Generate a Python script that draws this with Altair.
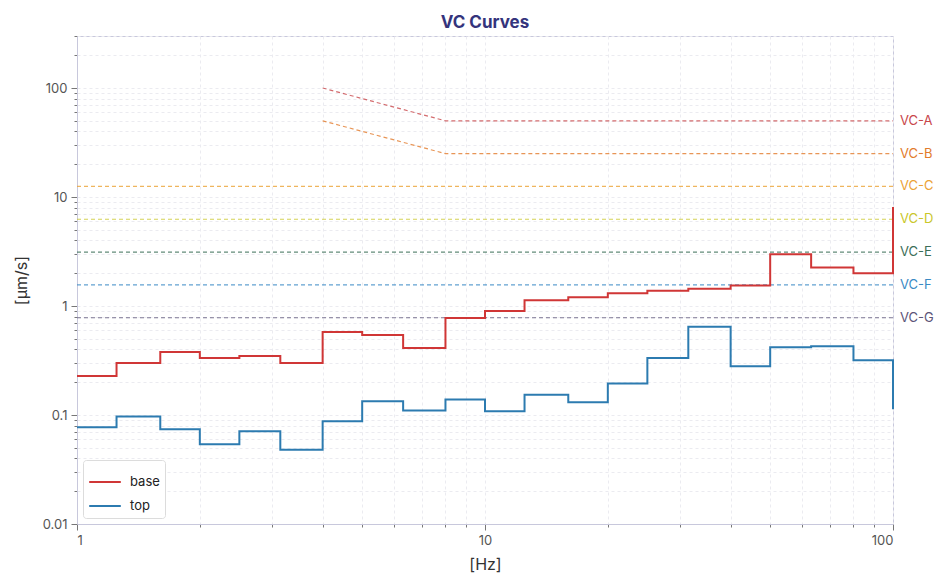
"""
VC Curves: base and top velocity spectra (1/3 octave) against the VC criteria
"""
import pandas as pd
import altair as alt

# 1/3 octave band centre frequencies [Hz]
freqs = [1, 1.25, 1.6, 2, 2.5, 3.15, 4, 5, 6.3, 8, 10, 12.5, 16, 20, 25,
         31.5, 40, 50, 63, 80, 100]
base_vals = [0.228, 0.30, 0.378, 0.333, 0.348, 0.30, 0.577, 0.542, 0.412, 0.776,
             0.90, 1.13, 1.20, 1.31, 1.38, 1.44, 1.54, 2.98, 2.26, 2.00, 8.1]
top_vals = [0.077, 0.097, 0.074, 0.054, 0.071, 0.048, 0.0875, 0.134, 0.110, 0.139,
            0.108, 0.153, 0.131, 0.195, 0.333, 0.646, 0.28, 0.418, 0.427, 0.318, 0.113]

# VC criteria [um/s]; A and B start at 4 Hz with a knee at 8 Hz
vc_names = ["VC-A", "VC-B", "VC-C", "VC-D", "VC-E", "VC-F", "VC-G"]
vc_levels = [50, 25, 12.5, 6.25, 3.12, 1.56, 0.78]
vc_colors = ["#c8464a", "#e27b2c", "#eba236", "#c9c62a", "#3b6e58", "#3a8ac4", "#5b5478"]
vc_start = [4, 4, 1, 1, 1, 1, 1]
vc_knee = 8

series_names = ["base", "top"]
series_colors = ["#d03636", "#2c7bb0"]

rows = []
for name, vals in zip(series_names, [base_vals, top_vals]):
    for f, v in zip(freqs, vals):
        rows.append({"series": name, "f": f, "v": v})
df = pd.DataFrame(rows)

vc_rows = []
for name, lvl, col, f0 in zip(vc_names, vc_levels, vc_colors, vc_start):
    if f0 > 1:
        pts = [(f0, lvl * vc_knee / f0), (vc_knee, lvl), (100, lvl)]
    else:
        pts = [(1, lvl), (100, lvl)]
    for f, v in pts:
        vc_rows.append({"name": name, "color": col, "f": f, "v": v})
vc_df = pd.DataFrame(vc_rows)
lab_df = pd.DataFrame({"name": vc_names, "color": vc_colors, "f": 100, "v": vc_levels})

x_ticks = [d * m for m in [1, 10] for d in range(1, 10)] + [100]
y_ticks = [round(d * m, 6) for m in [0.01, 0.1, 1, 10, 100] for d in range(1, 10) if d * m <= 300]

is_major = "abs(log(datum.value)/LN10 - round(log(datum.value)/LN10)) < 1e-6"


def axis(values, title_pad):
    return alt.Axis(
        values=values, grid=True, gridDash=[3, 3], gridColor="#ebebf0",
        labelExpr=f"{is_major} ? format(datum.value, '~g') : ''",
        tickSize={"condition": {"test": is_major, "value": 6}, "value": 3},
        tickColor="#777", domainColor="#c8c8dc", labelColor="#555",
        labelFontSize=13, labelFont="Inter", titleFont="Inter",
        titleFontSize=16, titleFontWeight="normal", titleColor="#333",
        titlePadding=title_pad, labelPadding=4,
    )


x_enc = alt.X("f:Q", title="[Hz]", scale=alt.Scale(type="log", domain=[1, 100], nice=False),
              axis=axis(x_ticks, 9))
y_enc = alt.Y("v:Q", title="[µm/s]", scale=alt.Scale(type="log", domain=[0.01, 300], nice=False),
              axis=axis(y_ticks, 13))

vc_lines = alt.Chart(vc_df).mark_line(strokeDash=[4, 3], strokeWidth=1.2, opacity=0.8).encode(
    x=x_enc, y=y_enc,
    color=alt.Color("color:N", scale=None),
    detail="name:N",
)

vc_labels = alt.Chart(lab_df).mark_text(align="left", dx=7, fontSize=13, font="Inter").encode(
    x=x_enc, y=y_enc,
    text="name:N",
    color=alt.Color("color:N", scale=None),
)

steps = alt.Chart(df).mark_line(interpolate="step-after", strokeWidth=2).encode(
    x=x_enc, y=y_enc,
    color=alt.Color(
        "series:N", title=None,
        scale=alt.Scale(domain=series_names, range=series_colors),
        legend=alt.Legend(
            orient="bottom-left", offset=6, symbolType="stroke", symbolSize=1000,
            symbolStrokeWidth=2, labelFontSize=13, labelFont="Inter", labelColor="#222",
            strokeColor="#dcdcdc", fillColor="white", padding=5, cornerRadius=3,
            rowPadding=0, labelOffset=8,
        ),
    ),
)

chart = alt.layer(vc_lines, vc_labels, steps).resolve_scale(color="independent").properties(
    width=816,
    height=488,
    title=alt.TitleParams(
        text="VC Curves", fontSize=17, fontWeight="bold", color="#34347c",
        font="Inter", anchor="middle", offset=4,
    ),
).configure_view(stroke="#c8c8dc")

chart.save("out.html", embed_options={"renderer": "svg", "actions": False})
